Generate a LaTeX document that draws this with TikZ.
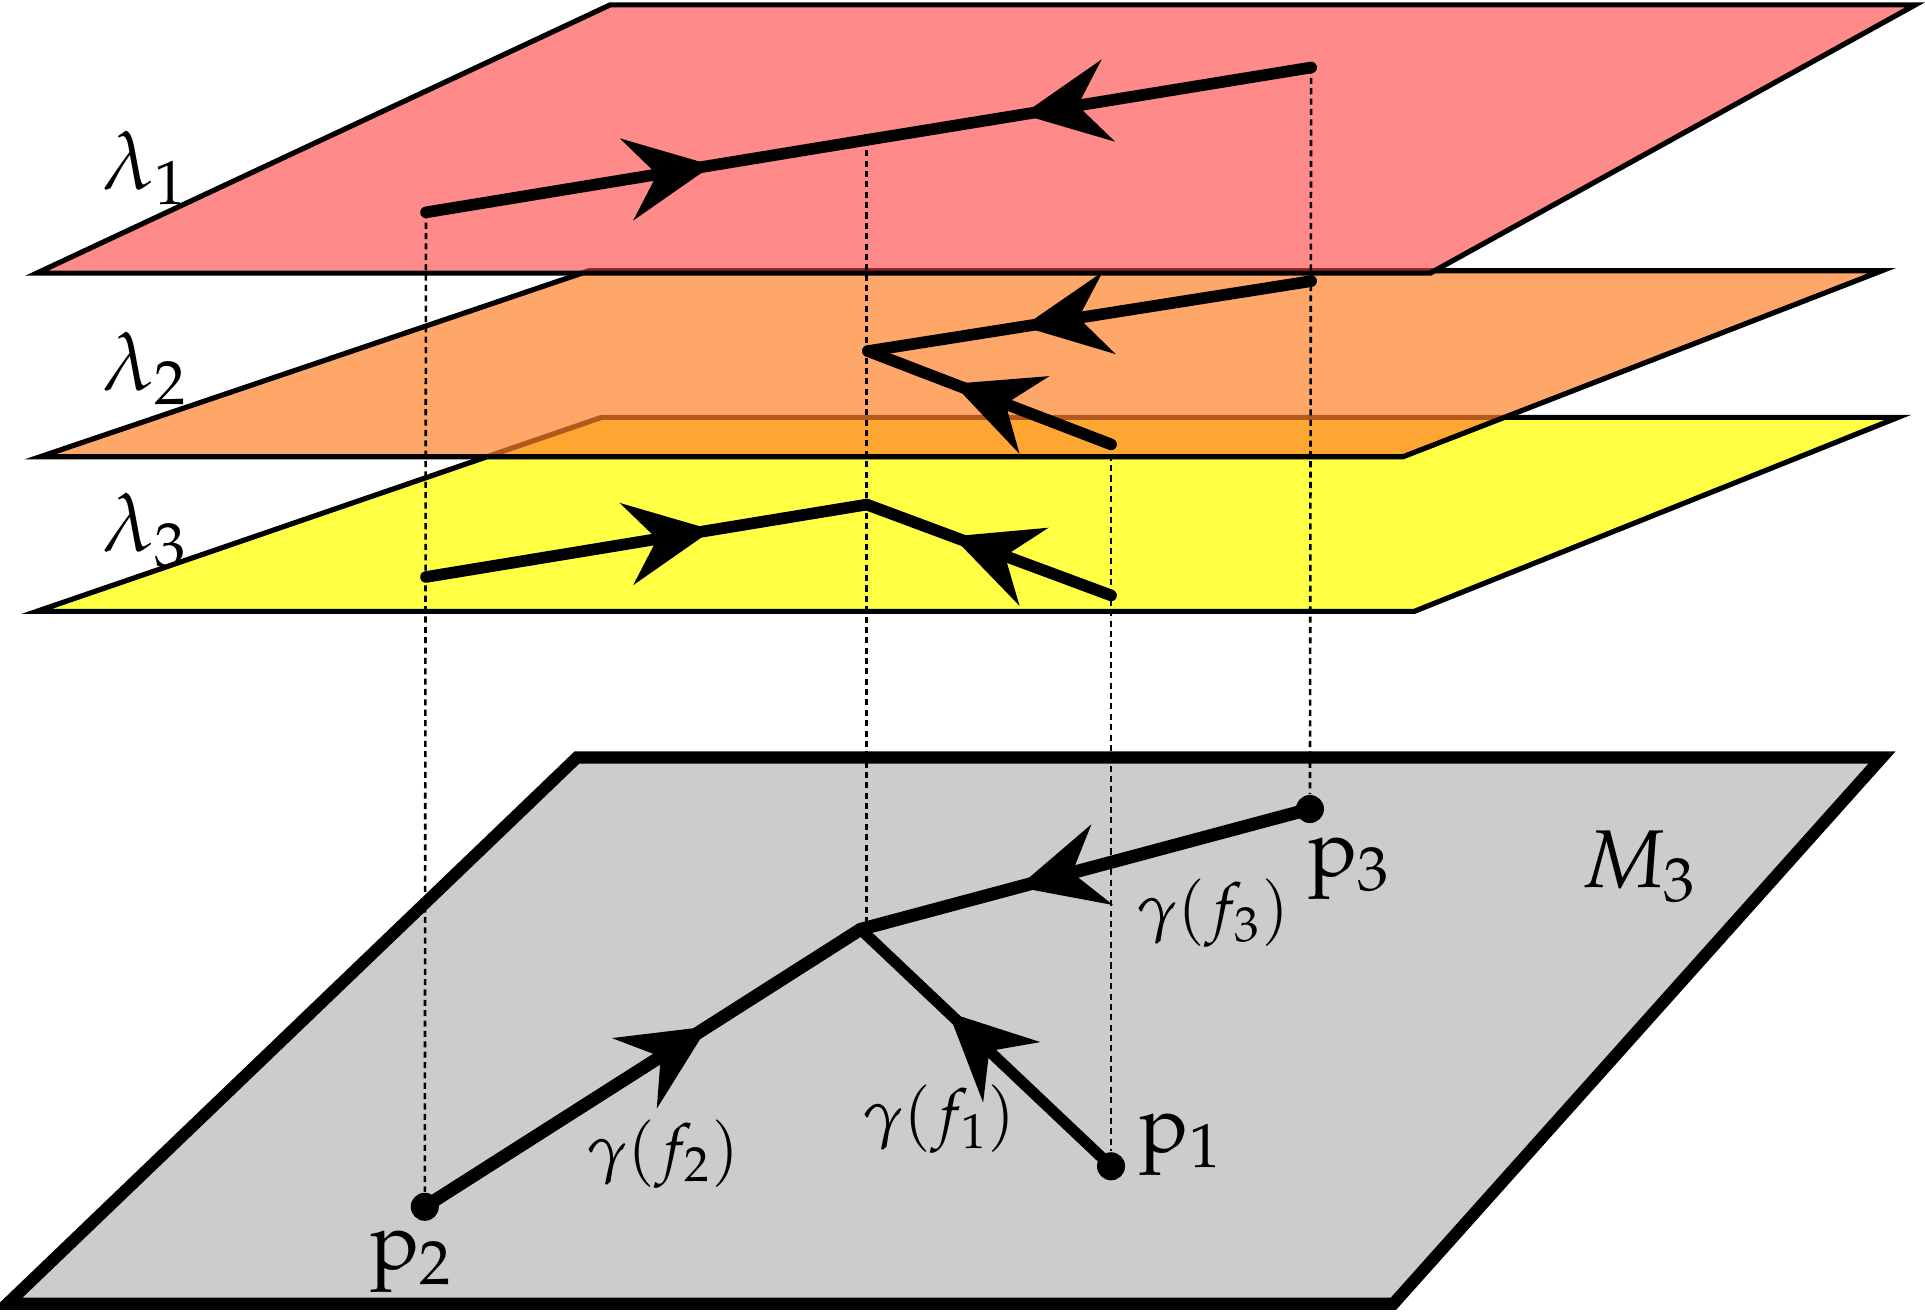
\documentclass[tikz,border=0pt]{standalone}
\usepackage{amsmath,amssymb}
\usepackage{mathpazo}
\usepackage{tikz}
\usetikzlibrary{arrows.meta,decorations.markings,positioning}
\usepackage{xcolor}

\definecolor{sheetone}{RGB}{255,60,60}
\definecolor{sheettwo}{RGB}{255,128,42}
\definecolor{sheetthree}{RGB}{255,255,68}
\definecolor{basegray}{RGB}{204,204,204}

\tikzset{
  sheet/.style={draw=black, line width=1.2pt},
  lift/.style={line width=2.7pt, line cap=round},
  flow/.style={line width=3pt, line cap=round},
  midarrow/.style={postaction={decorate}, decoration={markings,
    mark=at position 0.65 with {\arrow{Stealth[length=20pt,width=19pt,inset=7pt]}}}},
  proj/.style={dash pattern=on 1.4pt off 1pt, line width=0.6pt},
  dot/.style={circle, fill, inner sep=0pt, minimum size=6.5pt},
  big/.style={font=\fontsize{19}{22}\selectfont, inner sep=0pt},
  small/.style={font=\fontsize{15}{18}\selectfont, inner sep=0pt},
}

\begin{document}
\begin{tikzpicture}[x=0.01cm, y=-0.01cm]
\useasboundingbox (0,0) rectangle (1568,1071);

% base manifold
\filldraw[line width=2.8pt, fill=basegray] (6,1062) -- (470,617) -- (1533,617) -- (1135,1062) -- cycle;

% the three sheets, lowest first
\filldraw[sheet, fill=sheetthree] (30,498) -- (490,340) -- (1546,340) -- (1152,498) -- cycle;
\filldraw[sheet, fill=sheettwo, fill opacity=0.7] (33,372) -- (480,220.5) -- (1533,220.5) -- (1143,372) -- cycle;
\filldraw[sheet, fill=sheetone, fill opacity=0.6] (30,222.5) -- (497,4) -- (1560,4) -- (1165,222.5) -- cycle;

\node[big] (l1) at (118,137) {$\lambda_1$};
\node[big] (l2) at (118,300) {$\lambda_2$};
\node[big] (l3) at (118,432) {$\lambda_3$};

% lifted points
\coordinate (a1) at (347,173);
\coordinate (b1) at (706,114);
\coordinate (c1) at (1068,55);
\coordinate (b2) at (707,286);
\coordinate (c2) at (1068,229);
\coordinate (d2) at (905,362);
\coordinate (a3) at (347,470);
\coordinate (b3) at (706,411);
\coordinate (d3) at (905,485);

% points on M_3
\node[dot] (q2) at (346,983) {};
\node[dot] (q1) at (905,950) {};
\node[dot] (q3) at (1067,659) {};
\coordinate (q0) at (701,757);

% projections
\draw[proj] (a1) -- (q2);
\draw[proj] (b1) -- (b1 |- q0);
\draw[proj] (d2) -- (q1);
\draw[proj] (c1) -- (q3);

% sheet 1
\draw[lift, midarrow] (a1) -- (b1);
\draw[lift, midarrow] (c1) -- (b1);
% sheet 2
\draw[lift, midarrow] (c2) -- (b2);
\draw[lift, midarrow] (d2) -- (b2);
% sheet 3
\draw[lift, midarrow] (a3) -- (b3);
\draw[lift, midarrow] (d3) -- (b3);

% flow lines on M_3
\draw[flow, midarrow] (q2.center) -- (q0);
\draw[flow, midarrow] (q3.center) -- (q0);
\draw[flow, line width=2.6pt, midarrow] (q1.center) -- (q0);

\node[big, below right=4pt and -3pt of q3] (p3) {$\mathrm{p}_3$};
\node[big, right=3pt of q1, yshift=5pt] (p1) {$\mathrm{p}_1$};
\node[big, below=2pt of q2, xshift=-3pt] (p2) {$\mathrm{p}_2$};
\node[big] (m3) at (1335,706) {$M_3$};
\node[small] (g3) at (988,744) {$\gamma(f_3)$};
\node[small] (g1) at (765,912) {$\gamma(f_1)$};
\node[small] (g2) at (540,940) {$\gamma(f_2)$};

\end{tikzpicture}
\end{document}
